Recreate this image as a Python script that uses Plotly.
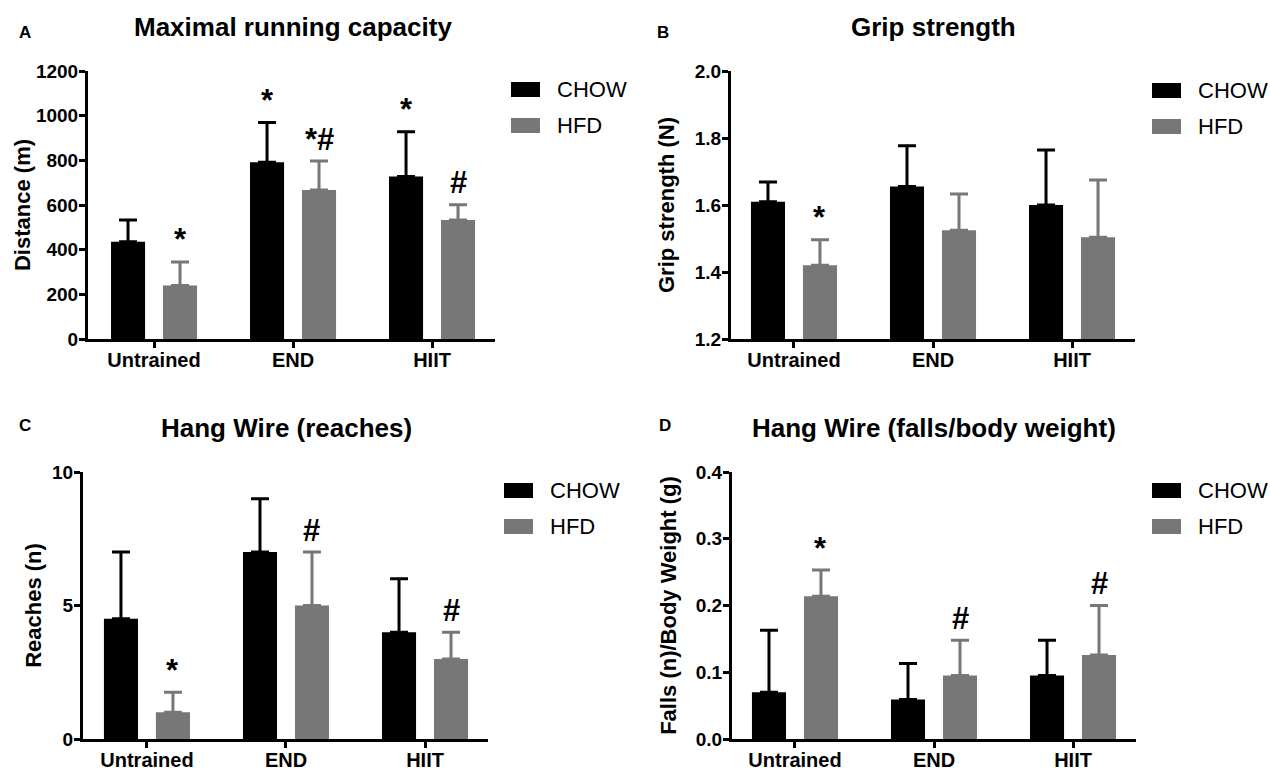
import plotly.graph_objects as go

W, H = 1270, 770

categories = ["Untrained", "END", "HIIT"]
groups = ["CHOW", "HFD"]

# Panel A: Maximal running capacity (m)
a_chow = [436, 791, 728]
a_chow_top = [533, 969, 928]
a_hfd = [240, 667, 533]
a_hfd_top = [345, 797, 601]
a_sig_chow = ["", "*", "*"]
a_sig_hfd = ["*", "*#", "#"]

# Panel B: Grip strength (N)
b_chow = [1.610, 1.655, 1.600]
b_chow_top = [1.669, 1.777, 1.764]
b_hfd = [1.420, 1.525, 1.504]
b_hfd_top = [1.496, 1.633, 1.675]
b_sig_chow = ["", "", ""]
b_sig_hfd = ["*", "", ""]

# Panel C: Hang wire reaches (n)
c_chow = [4.5, 7.0, 4.0]
c_chow_top = [7.0, 9.0, 6.0]
c_hfd = [1.0, 5.0, 3.0]
c_hfd_top = [1.75, 7.0, 4.0]
c_sig_chow = ["", "", ""]
c_sig_hfd = ["*", "#", "#"]

# Panel D: Hang wire falls / body weight
d_chow = [0.070, 0.059, 0.095]
d_chow_top = [0.163, 0.113, 0.148]
d_hfd = [0.214, 0.095, 0.126]
d_hfd_top = [0.253, 0.148, 0.200]
d_sig_chow = ["", "", ""]
d_sig_hfd = ["*", "#", "#"]

titles = ["Maximal running capacity", "Grip strength",
          "Hang Wire (reaches)", "Hang Wire (falls/body weight)"]
letters = ["A", "B", "C", "D"]
ytitles = ["Distance (m)", "Grip strength (N)", "Reaches (n)",
           "Falls (n)/Body Weight (g)"]

BLACK = "#000000"
GRAY = "#777777"
FONT = "Liberation Sans"

panels = [
    dict(chow=a_chow, chow_top=a_chow_top, hfd=a_hfd, hfd_top=a_hfd_top,
         sc=a_sig_chow, sh=a_sig_hfd,
         xdom=(88, 495), xr=(-0.475, 2.453), ydom=(71, 339),
         yr=(0, 1200), dtick=200, fmt="d",
         title_xy=(293, 27), letter_xy=(25, 32), leg=(511, 82), standoff=0),
    dict(chow=b_chow, chow_top=b_chow_top, hfd=b_hfd, hfd_top=b_hfd_top,
         sc=b_sig_chow, sh=b_sig_hfd,
         xdom=(731, 1135), xr=(-0.453, 2.453), ydom=(71, 339),
         yr=(1.2, 2.0), dtick=0.2, fmt=".1f",
         title_xy=(933, 27), letter_xy=(663, 32), leg=(1152, 83), standoff=15),
    dict(chow=c_chow, chow_top=c_chow_top, hfd=c_hfd, hfd_top=c_hfd_top,
         sc=c_sig_chow, sh=c_sig_hfd,
         xdom=(83, 488), xr=(-0.46, 2.453), ydom=(472, 739),
         yr=(0, 10), dtick=5, fmt="d",
         title_xy=(286, 428), letter_xy=(25, 426), leg=(504, 483), standoff=5),
    dict(chow=d_chow, chow_top=d_chow_top, hfd=d_hfd, hfd_top=d_hfd_top,
         sc=d_sig_chow, sh=d_sig_hfd,
         xdom=(732, 1136), xr=(-0.453, 2.453), ydom=(472, 739),
         yr=(0, 0.4), dtick=0.1, fmt=".1f",
         title_xy=(934, 428), letter_xy=(665, 425), leg=(1152, 483), standoff=14),
]

fig = go.Figure()
annotations = []
shapes = []

for i, p in enumerate(panels):
    n = "" if i == 0 else str(i + 1)
    xa, ya = "x" + n, "y" + n
    for name, vals, tops, col, sig, shift in [
        ("CHOW", p["chow"], p["chow_top"], BLACK, p["sc"], -26),
        ("HFD", p["hfd"], p["hfd_top"], GRAY, p["sh"], 26),
    ]:
        fig.add_trace(go.Bar(
            x=categories, y=vals, name=name, xaxis=xa, yaxis=ya,
            marker=dict(color=col, line=dict(width=0)),
            showlegend=False, offsetgroup=name,
            error_y=dict(type="data", symmetric=False,
                         array=[t - v for t, v in zip(tops, vals)],
                         arrayminus=[0] * len(vals),
                         color=col, thickness=3, width=9),
        ))
        for c, t, s in zip(categories, tops, sig):
            if s:
                annotations.append(dict(
                    x=c, y=t, xref=xa, yref=ya, text=s, showarrow=False,
                    xshift=shift, yshift=22, yanchor="middle",
                    font=dict(family=FONT, size=31, color="#000", weight="bold")))

    x0, x1 = p["xdom"]
    y0, y1 = p["ydom"]
    axis_common = dict(showline=True, linewidth=3, linecolor="#000",
                       ticks="outside", ticklen=6, tickwidth=3, tickcolor="#000",
                       showgrid=False, zeroline=False, automargin=False)
    fig.update_layout(**{
        ("xaxis" + n): dict(domain=[x0 / W, x1 / W], range=list(p["xr"]),
                            anchor=ya, type="category", ticklabelstandoff=-5,
                            tickfont=dict(family=FONT, size=20, color="#000",
                                          weight="bold"),
                            **axis_common),
        ("yaxis" + n): dict(domain=[1 - y1 / H, 1 - y0 / H], range=list(p["yr"]),
                            anchor=xa, dtick=p["dtick"], tick0=p["yr"][0],
                            tickformat=p["fmt"], ticklabelstandoff=-3,
                            tickfont=dict(family=FONT, size=19, color="#000",
                                          weight="bold"),
                            title=dict(text=ytitles[i], standoff=p["standoff"],
                                       font=dict(family=FONT, size=22, color="#000",
                                                 weight="bold")),
                            **axis_common),
    })

    tx, ty = p["title_xy"]
    annotations.append(dict(x=tx / W, y=1 - ty / H, xref="paper", yref="paper",
                            text=titles[i], showarrow=False, xanchor="center",
                            yanchor="middle",
                            font=dict(family=FONT, size=26, color="#000", weight="bold")))
    lx, ly = p["letter_xy"]
    annotations.append(dict(x=lx / W, y=1 - ly / H, xref="paper", yref="paper",
                            text=letters[i], showarrow=False, xanchor="center",
                            yanchor="middle",
                            font=dict(family=FONT, size=17, color="#000", weight="bold")))

    gx, gy = p["leg"]
    for k, (gname, col) in enumerate(zip(groups, [BLACK, GRAY])):
        top = gy + 36 * k
        shapes.append(dict(type="rect", xref="paper", yref="paper",
                           x0=gx / W, x1=(gx + 29) / W,
                           y0=1 - (top + 15) / H, y1=1 - top / H,
                           fillcolor=col, line=dict(width=0)))
        annotations.append(dict(x=(gx + 44) / W, y=1 - (top + 7.5) / H,
                                xref="paper", yref="paper", text=gname,
                                showarrow=False, xanchor="left", yanchor="middle",
                                font=dict(family=FONT, size=22, color="#000")))

fig.update_layout(
    width=W, height=H, margin=dict(l=0, r=0, t=0, b=0, autoexpand=False),
    paper_bgcolor="white", plot_bgcolor="white",
    barmode="group", bargap=0.252, bargroupgap=0.345,
    annotations=annotations, shapes=shapes,
    font=dict(family=FONT, color="#000"),
)

fig.write_html(
    "out.html",
    config={"displayModeBar": False},
    post_script="document.body.style.margin='0';document.body.style.overflow='hidden';",
)
